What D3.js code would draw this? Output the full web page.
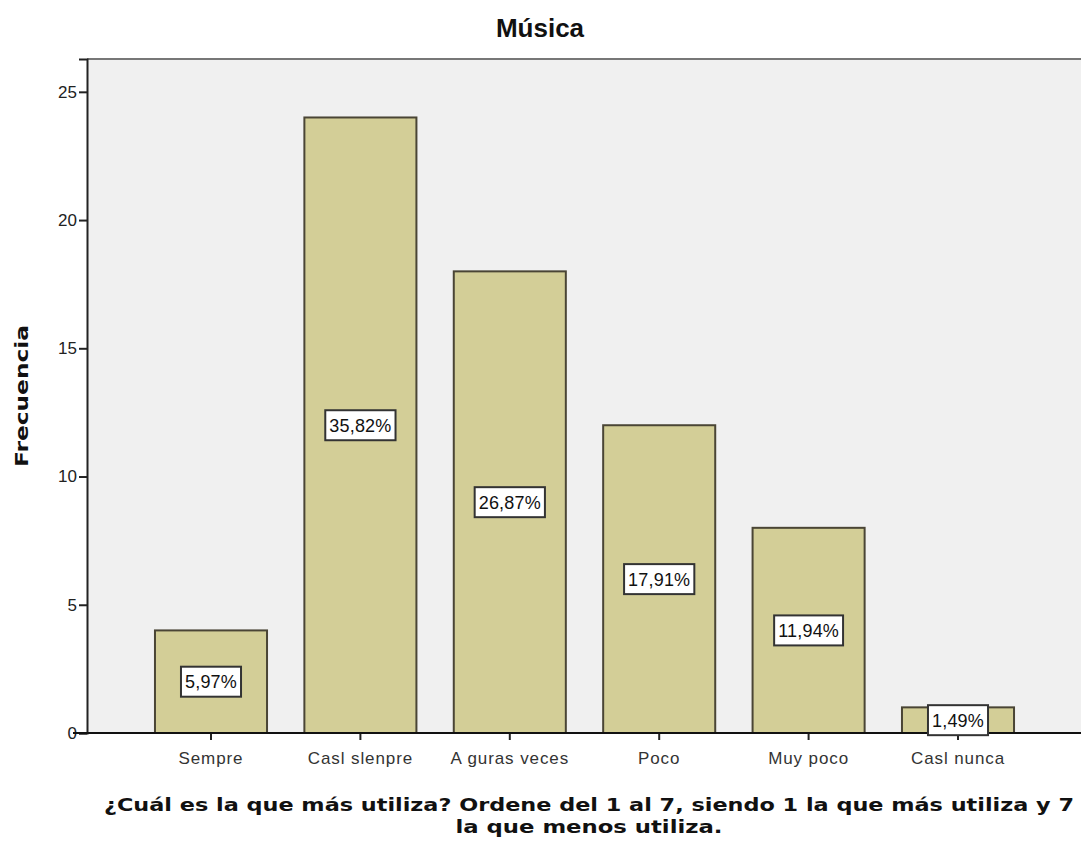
<!DOCTYPE html>
<html><head><meta charset="utf-8">
<script src="https://cdn.jsdelivr.net/npm/d3@7"></script>
<style>body{margin:0;background:#fff}svg{display:block}</style>
</head><body>
<svg id="c" width="1081" height="841"></svg>
<script>
const categories = ["Sempre","Casi siempre","Algunas veces","Poco","Muy poco","Casi nunca"];
const catLabels = ["Sempre","Casl slenpre","A guras veces","Poco","Muy poco","Casl nunca"];
const frequencies = [4,24,18,12,8,1];
const percentLabels = ["5,97%","35,82%","26,87%","17,91%","11,94%","1,49%"];
const yTicks = [0,5,10,15,20,25];
const title = "Música";
const yTitle = "Frecuencia";
const xTitleLines = ["¿Cuál es la que más utiliza? Ordene del 1 al 7, siendo 1 la que más utiliza y 7","la que menos utiliza."];

const svg = d3.select("#c");
const plot = {left:87, top:59, right:1081, bottom:733};

const x = d3.scaleBand().domain(categories).range([136.3,1032.7]).paddingInner(0.25).paddingOuter(0.125);
const y = d3.scaleLinear().domain([0,26.28]).range([plot.bottom, plot.top]);

// background
svg.append("rect").attr("x",plot.left).attr("y",plot.top).attr("width",plot.right-plot.left+2).attr("height",plot.bottom-plot.top)
  .attr("fill","#f0f0f0");
svg.append("line").attr("x1",plot.left).attr("x2",plot.right).attr("y1",plot.top).attr("y2",plot.top).attr("stroke","#777").attr("stroke-width",2);

// bars
svg.append("g").selectAll("rect").data(frequencies).join("rect")
  .attr("x",(d,i)=>x(categories[i])).attr("width",x.bandwidth())
  .attr("y",d=>y(d)).attr("height",d=>y(0)-y(d))
  .attr("fill","#d3ce97").attr("stroke","#4a4535").attr("stroke-width",2);

// y axis
const yAxis = d3.axisLeft(y).tickValues(yTicks).tickSize(8).tickPadding(2).tickFormat(d3.format("d"));
const ga = svg.append("g").attr("transform",`translate(${plot.left},0)`).call(yAxis);
ga.select(".domain").attr("stroke","#222").attr("stroke-width",2);
ga.selectAll(".tick line").attr("stroke","#222").attr("stroke-width",2);
ga.selectAll(".tick text").style("font-family","Liberation Sans, Arial, sans-serif").style("font-size","17px").attr("fill","#222");

// x axis
const xAxis = d3.axisBottom(x).tickSize(7).tickPadding(12).tickFormat((d,i)=>catLabels[i]);
const gx = svg.append("g").attr("transform",`translate(0,${plot.bottom})`).call(xAxis);
gx.select(".domain").remove();
svg.append("line").attr("x1",plot.left-14).attr("x2",plot.right).attr("y1",plot.bottom).attr("y2",plot.bottom).attr("stroke","#111").attr("stroke-width",2);
gx.selectAll(".tick line").attr("stroke","#222").attr("stroke-width",2);
gx.selectAll(".tick text").style("font-family","Liberation Sans, Arial, sans-serif").style("font-size","17px").attr("letter-spacing",0.9).attr("fill","#333");

// value labels
const lg = svg.append("g").selectAll("g").data(frequencies).join("g")
  .attr("transform",(d,i)=>`translate(${x(categories[i])+x.bandwidth()/2},${y(d/2)})`);
lg.each(function(d,i){
  const g = d3.select(this);
  const t = g.append("text").text(percentLabels[i]).attr("text-anchor","middle").attr("dy","0.36em")
    .style("font-family","Liberation Sans, Arial, sans-serif").style("font-size","18px").attr("letter-spacing",0.2).attr("fill","#111");
  const w = t.node().getComputedTextLength()+8;
  g.insert("rect","text").attr("x",-w/2).attr("y",-15).attr("width",w).attr("height",30)
    .attr("fill","#fff").attr("stroke","#333").attr("stroke-width",2);
});

// titles
svg.append("text").text(title).attr("x",540).attr("y",37).attr("text-anchor","middle")
  .attr("font-family","Liberation Sans, Arial, sans-serif").attr("font-weight","bold").attr("font-size",26).attr("fill","#111");
svg.append("text").text(yTitle).attr("transform","translate(28,396) rotate(-90)").attr("text-anchor","middle")
  .attr("font-family","DejaVu Sans, Verdana, sans-serif").attr("font-weight","bold").attr("font-size",18)
  .attr("textLength",142).attr("lengthAdjust","spacingAndGlyphs").attr("fill","#111");
xTitleLines.forEach((l,i)=>{
  svg.append("text").text(l).attr("x",589).attr("y",811+i*22).attr("text-anchor","middle")
    .attr("font-family","DejaVu Sans, Verdana, sans-serif").attr("font-weight","bold").attr("font-size",18)
    .attr("textLength",i===0?970:267).attr("lengthAdjust","spacingAndGlyphs").attr("fill","#111");
});
</script>
</body></html>
